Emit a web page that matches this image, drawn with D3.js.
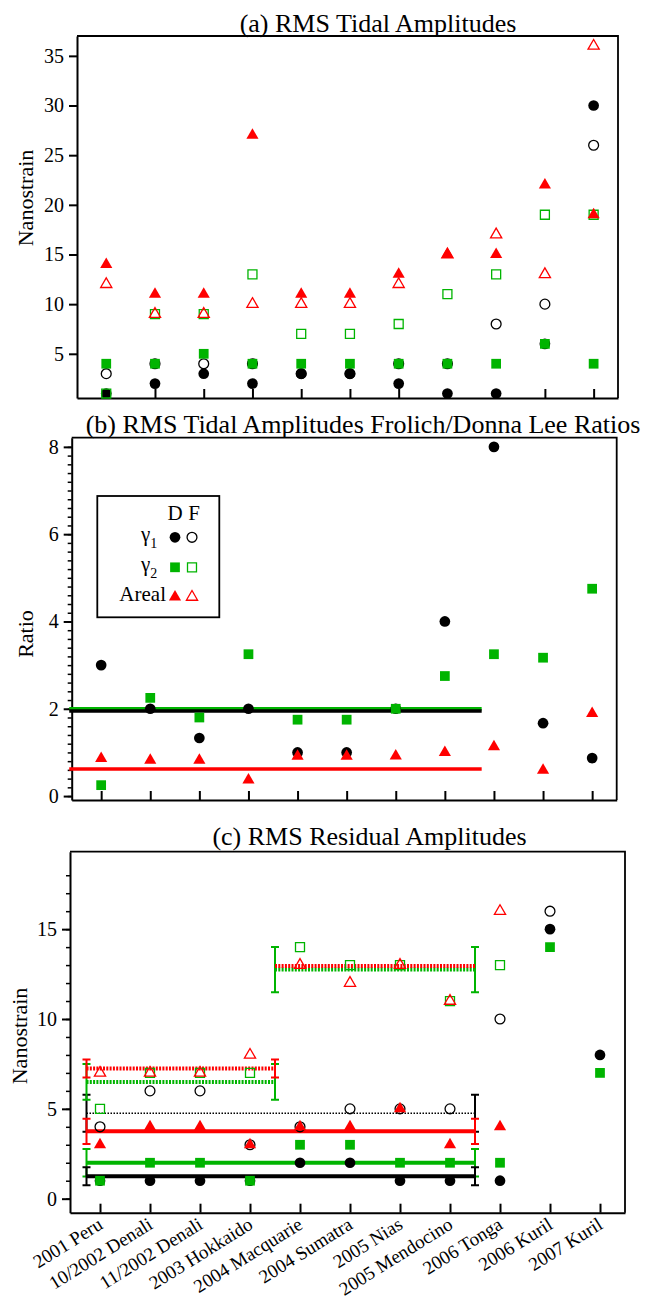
<!DOCTYPE html>
<html>
<head>
<meta charset="utf-8">
<script src="https://cdn.jsdelivr.net/npm/d3@7"></script>
<style>
  body { margin: 0; background: #fff; }
  svg, svg text { font-family: "Liberation Serif", "Times New Roman", serif; }
</style>
</head>
<body>
<script>
const width = 647;
const height = 1302;

const black = "#000";
const green = "#00b400";
const red = "#ff0000";

// events, shared by all three panels
const categories = [
  "2001 Peru", "10/2002 Denali", "11/2002 Denali", "2003 Hokkaido",
  "2004 Macquarie", "2004 Sumatra", "2005 Nias", "2005 Mendocino",
  "2006 Tonga", "2006 Kuril", "2007 Kuril"
];

// (a) RMS tidal amplitudes, nanostrain (D = Donna Lee, F = Frolich)
const tidalG1D = [1, 2, 3, 2, 3, 3, 2, 1, 1, 6, 30];
const tidalG1F = [3, 4, 4, 4, 3, 3, 4, 4, 8, 10, 26];
const tidalG2D = [4, 4, 5, 4, 4, 4, 4, 4, 4, 6, 4];
const tidalG2F = [1, 9, 9, 13, 7, 7, 8, 11, 13, 19, 19];
const tidalArD = [14, 11, 11, 27, 11, 11, 13, 15, 15, 22, 19];
const tidalArF = [12, 9, 9, 10, 10, 10, 12, 15, 17, 13, 36];
const tidalTicks = [5, 10, 15, 20, 25, 30, 35];

// (b) Frolich / Donna Lee ratios
const ratioG1 = [3, 2, 1.33, 2, 1, 1, 2, 4, 8, 1.67, 0.87];
const ratioG2 = [0.25, 2.25, 1.8, 3.25, 1.75, 1.75, 2, 2.75, 3.25, 3.17, 4.75];
const ratioAr = [0.86, 0.82, 0.82, 0.37, 0.91, 0.91, 0.92, 1.0, 1.13, 0.59, 1.89];
const ratioTicks = [0, 2, 4, 6, 8];
// mean ratio lines: [value, from, to] (x in category units)
const ratioMeanG1 = [1.95, -0.65, 7.75];
const ratioMeanG2 = [2.0, -0.65, 7.75];
const ratioMeanAr = [0.62, -0.65, 7.75];

// (c) RMS residual amplitudes, nanostrain
const residG1D = [1, 1, 1, 1, 2, 2, 1, 1, 1, 15, 8];
const residG1F = [4, 6, 6, 3, 4, 5, 5, 5, 10, 16, null];
const residG2D = [1, 2, 2, 1, 3, 3, 2, 2, 2, 14, 7];
const residG2F = [5, 7, 7, 7, 14, 13, 13, 11, 13, null, null];
const residArD = [3, 4, 4, 3, 4, 4, 5, 3, 4, null, null];
const residArF = [7, 7, 7, 8, 13, 12, 13, 11, 16, null, null];
const residTicks = [0, 5, 10, 15];
// group means: [value, error, from, to]
const meanG1D = [1.25, 0.5, -0.27, 7.5];
const meanG1F = [4.75, 1.03, -0.27, 7.5];
const meanG2D = [2.0, 0.76, -0.27, 7.5];
const meanArD = [3.75, 0.7, -0.27, 7.5];
const meanG2F = [[6.5, 1.0, -0.27, 3.5], [12.75, 1.26, 3.5, 7.5]];
const meanArF = [[7.25, 0.5, -0.27, 3.5], [12.95, 0, 3.5, 7.5]];

let svg = d3.select("body").append("svg")
  .attr("width", width)
  .attr("height", height);

svg.append("rect").attr("width", width).attr("height", height).attr("fill", "#fff");

const idx = d3.range(categories.length);

const symbols = { circle: d3.symbolCircle, square: d3.symbolSquare, triangle: d3.symbolTriangle };
const symbolSize = { circle: 90, square: 95, triangle: 64 };

function makePanel(box, yDomain, majorTicks, minorTicks) {
  let x = d3.scaleLinear().domain([-0.6, 10.5]).range([box.left, box.right]);
  let y = d3.scaleLinear().domain(yDomain).range([box.bottom, box.top]);
  let g = svg.append("g");

  // frame top / right
  g.append("path")
    .attr("d", `M${box.left},${box.top}H${box.right}V${box.bottom}`)
    .attr("fill", "none").attr("stroke", black).attr("stroke-width", 1.8);

  let bottomAxis = d3.axisBottom(x).tickValues(idx).tickSize(-9).tickSizeOuter(0).tickFormat("");
  g.append("g")
    .attr("transform", `translate(0,${box.bottom})`)
    .call(bottomAxis)
    .call(a => a.selectAll("path,line").attr("stroke-width", 2));

  if (minorTicks) {
    g.append("g")
      .attr("transform", `translate(${box.left},0)`)
      .call(d3.axisLeft(y).tickValues(minorTicks).tickSize(4).tickSizeOuter(0).tickFormat(""))
      .call(a => a.selectAll("line").attr("stroke-width", 1.5))
      .call(a => a.select(".domain").remove());
  }

  let leftAxis = d3.axisLeft(y).tickValues(majorTicks).tickSize(8).tickSizeOuter(0).tickPadding(5);
  g.append("g")
    .attr("transform", `translate(${box.left},0)`)
    .call(leftAxis)
    .attr("font-family", null)
    .attr("font-size", null)
    .call(a => a.selectAll("path,line").attr("stroke-width", 2))
    .call(a => a.selectAll("text").style("font-size", "20px"));

  return { x, y, g };
}

// draw one series of markers
function drawMarks(p, values, shape, filled, color) {
  let size = symbolSize[shape];
  let data = idx.filter(i => values[i] != null);
  p.g.append("g")
    .selectAll("path")
    .data(data)
    .join("path")
    .attr("transform", i => `translate(${p.x(i)},${p.y(values[i])})`)
    .attr("d", d3.symbol(symbols[shape], filled ? size : size * 0.85))
    .attr("fill", filled ? color : "none")
    .attr("stroke", filled ? "none" : color)
    .attr("stroke-width", 1.3);
}

function title(text, cx, by) {
  svg.append("text")
    .attr("x", cx).attr("y", by)
    .attr("text-anchor", "middle")
    .style("font-size", "26px")
    .text(text);
}

function yLabel(text, bx, cy) {
  svg.append("text")
    .attr("transform", `translate(${bx},${cy}) rotate(-90)`)
    .attr("text-anchor", "middle")
    .style("font-size", "22px")
    .text(text);
}

// ---------- (a) ----------
let pa = makePanel({ left: 77, right: 618, top: 36, bottom: 398 }, [0.55, 37], tidalTicks);
title("(a) RMS Tidal Amplitudes", 378, 32);
yLabel("Nanostrain", 33, 198);

drawMarks(pa, tidalG1F, "circle", false, black);
drawMarks(pa, tidalG1D, "circle", true, black);
drawMarks(pa, tidalG2F, "square", false, green);
drawMarks(pa, tidalG2D, "square", true, green);
drawMarks(pa, tidalArF, "triangle", false, red);
drawMarks(pa, tidalArD, "triangle", true, red);

// ---------- (b) ----------
let pb = makePanel({ left: 71.7, right: 616.7, top: 437.7, bottom: 800 }, [-0.09, 8.21],
  ratioTicks, d3.range(0, 8.01, 0.2));
title("(b) RMS Tidal Amplitudes Frolich/Donna Lee Ratios", 363, 433);
yLabel("Ratio", 33, 634);

function meanLine(p, m, color, w) {
  p.g.append("line")
    .attr("x1", p.x(m[1])).attr("x2", p.x(m[2]))
    .attr("y1", p.y(m[0])).attr("y2", p.y(m[0]))
    .attr("stroke", color).attr("stroke-width", w);
}
meanLine(pb, ratioMeanAr, red, 3.5);
meanLine(pb, ratioMeanG2, green, 3.5);
meanLine(pb, ratioMeanG1, black, 3.5);

drawMarks(pb, ratioG1, "circle", true, black);
drawMarks(pb, ratioG2, "square", true, green);
drawMarks(pb, ratioAr, "triangle", true, red);

// legend
let leg = svg.append("g");
leg.append("rect")
  .attr("x", 97.3).attr("y", 496).attr("width", 122).attr("height", 121.3)
  .attr("fill", "#fff").attr("stroke", black).attr("stroke-width", 1.8);
leg.append("text").attr("x", 175).attr("y", 520).attr("text-anchor", "middle")
  .style("font-size", "21px").text("D");
leg.append("text").attr("x", 194).attr("y", 520).attr("text-anchor", "middle")
  .style("font-size", "21px").text("F");
function legGamma(sub, yb) {
  let t = leg.append("text").attr("x", 141).attr("y", yb).style("font-size", "21px");
  t.append("tspan").text("γ");
  t.append("tspan").attr("dy", 7).style("font-size", "14px").text(sub);
}
legGamma("1", 541);
legGamma("2", 571);
leg.append("text").attr("x", 166).attr("y", 601).attr("text-anchor", "end")
  .style("font-size", "21px").text("Areal");
[["circle", black, 537.3], ["square", green, 567.3], ["triangle", red, 597]].forEach(([shape, color, yy]) => {
  let size = symbolSize[shape];
  leg.append("path").attr("transform", `translate(175,${yy})`)
    .attr("d", d3.symbol(symbols[shape], size)).attr("fill", color);
  leg.append("path").attr("transform", `translate(192,${yy})`)
    .attr("d", d3.symbol(symbols[shape], size * 0.85)).attr("fill", "none")
    .attr("stroke", color).attr("stroke-width", 1.3);
});

// ---------- (c) ----------
let pc = makePanel({ left: 70, right: 625, top: 851.7, bottom: 1212.7 }, [-0.78, 19.31],
  residTicks, d3.range(0, 18.5, 1));
title("(c) RMS Residual Amplitudes", 369.5, 845);
yLabel("Nanostrain", 27, 1036);

function groupMean(p, m, color, w, dash) {
  let [v, e, a, b] = m;
  let line = p.g.append("line")
    .attr("x1", p.x(a)).attr("x2", p.x(b))
    .attr("y1", p.y(v)).attr("y2", p.y(v))
    .attr("stroke", color).attr("stroke-width", w);
  if (dash) line.attr("stroke-dasharray", dash);
  if (e > 0) {
    [a, b].forEach(xv => {
      let px = p.x(xv);
      p.g.append("path")
        .attr("d", `M${px},${p.y(v - e)}V${p.y(v + e)}M${px - 4},${p.y(v - e)}h8M${px - 4},${p.y(v + e)}h8`)
        .attr("fill", "none").attr("stroke", color).attr("stroke-width", 2);
    });
  }
}
groupMean(pc, meanG1F, black, 1.5, "1.5,1.5");
meanG2F.forEach(m => groupMean(pc, m, green, 4, "2,1.3"));
meanArF.forEach(m => groupMean(pc, m, red, 4, "2,1.3"));
groupMean(pc, meanArD, red, 4);
groupMean(pc, meanG2D, green, 4);
groupMean(pc, meanG1D, black, 4);

drawMarks(pc, residG1F, "circle", false, black);
drawMarks(pc, residG1D, "circle", true, black);
drawMarks(pc, residG2F, "square", false, green);
drawMarks(pc, residG2D, "square", true, green);
drawMarks(pc, residArF, "triangle", false, red);
drawMarks(pc, residArD, "triangle", true, red);

// rotated event names under (c)
svg.append("g")
  .selectAll("text")
  .data(idx)
  .join("text")
  .attr("transform", i => `translate(${pc.x(i) + 4},${1212.7 + 15}) rotate(-32)`)
  .attr("text-anchor", "end")
  .style("font-size", "19px")
  .text(i => categories[i]);
</script>
</body>
</html>
